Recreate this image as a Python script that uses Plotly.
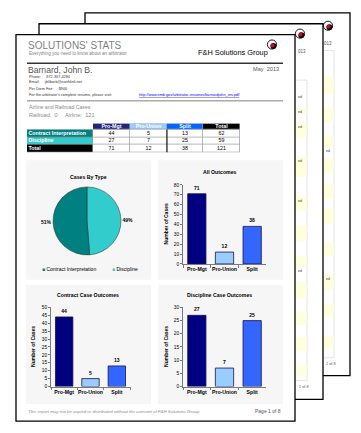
import plotly.graph_objects as go

W, H = 361, 433
def X(p): return p / W
def Y(p): return 1 - p / H

# ---------------- data ----------------
categories = ['Pro-Mgt', 'Pro-Union', 'Split']
contract_vals = [44, 5, 13]
discipline_vals = [27, 7, 25]
case_types = ['Contract Interpretation', 'Discipline']
all_vals = [c + d for c, d in zip(contract_vals, discipline_vals)]
type_totals = [sum(contract_vals), sum(discipline_vals)]
table_header = ['Pro-Mgt', 'Pro-Union', 'Split', 'Total']
row_labels = case_types + ['Total']

bar_colors = ['#000080', '#99CCFF', '#3366FF']
type_colors = ['#008080', '#33CCCC']
header_colors = ['#24247E', '#99CCFF', '#0066FF', '#000000']

FONT = 'Liberation Sans'

fig = go.Figure()

# ---------------- table (heatmap cells on a hidden axis) ----------------
rows = [contract_vals + [sum(contract_vals)],
        discipline_vals + [sum(discipline_vals)],
        all_vals + [sum(all_vals)]]
col_edges = [0, 66, 103, 140, 176, 213]      # relative column widths
row_edges = [0, 6, 14, 21.5, 29]             # relative row heights (header + 3 rows)
palette = ['#FFFFFF'] + header_colors + type_colors   # 0 white,1-4 headers,5-6 types
pal_scale = [[i / (len(palette) - 1), c] for i, c in enumerate(palette)]
label_idx = [5, 6, 4]
z = [[None, 1, 2, 3, 4]] + [[label_idx[r], 0, 0, 0, 0] for r in range(3)]
fig.add_trace(go.Heatmap(
    x=col_edges, y=row_edges, z=z, xaxis='x4', yaxis='y4',
    colorscale=pal_scale, zmin=0, zmax=len(palette) - 1, showscale=False,
    xgap=0.7, ygap=0.7, hoverinfo='skip'
))
cx = [(col_edges[i] + col_edges[i + 1]) / 2 for i in range(5)]
cy = [(row_edges[i] + row_edges[i + 1]) / 2 for i in range(4)]
# header texts
fig.add_trace(go.Scatter(
    x=cx[1:], y=[cy[0]] * 4, text=table_header, mode='text', xaxis='x4', yaxis='y4',
    textfont=dict(size=5.3, family=FONT, color='white', weight='bold'),
    hoverinfo='skip', showlegend=False))
# row labels
fig.add_trace(go.Scatter(
    x=[1.5] * 3, y=cy[1:], text=row_labels, mode='text', textposition='middle right',
    xaxis='x4', yaxis='y4',
    textfont=dict(size=5.3, family=FONT, color='white', weight='bold'),
    hoverinfo='skip', showlegend=False))
# values
vx, vy, vt = [], [], []
for r, row in enumerate(rows):
    for c, v in enumerate(row):
        vx.append(cx[c + 1]); vy.append(cy[r + 1]); vt.append(str(v))
fig.add_trace(go.Scatter(
    x=vx, y=vy, text=vt, mode='text', xaxis='x4', yaxis='y4',
    textfont=dict(size=5.3, family=FONT, color='black'),
    hoverinfo='skip', showlegend=False))

# ---------------- pie ----------------
fig.add_trace(go.Pie(
    labels=case_types[::-1], values=type_totals[::-1], sort=False,
    direction='clockwise', rotation=0,
    marker=dict(colors=type_colors[::-1], line=dict(color='#2a2a2a', width=0.5)),
    texttemplate='<b>%{percent:.0%}</b>', textposition='outside',
    textfont=dict(size=5, family=FONT, color='black'),
    domain=dict(x=[X(53), X(121)], y=[Y(256), Y(187)]),
    showlegend=False, hoverinfo='skip'
))

# ---------------- bars ----------------
for vals, xa, ya in [(all_vals, 'x', 'y'), (contract_vals, 'x2', 'y2'), (discipline_vals, 'x3', 'y3')]:
    fig.add_trace(go.Bar(
        x=categories, y=vals, xaxis=xa, yaxis=ya,
        marker=dict(color=bar_colors, line=dict(color='#14144a', width=0.8)),
        text=vals, textposition='outside', cliponaxis=False,
        textfont=dict(size=5, family=FONT, color='black', weight='bold'),
        showlegend=False, hoverinfo='skip'
    ))

axis_common = dict(showline=True, linecolor='#7a7a7a', linewidth=0.8, ticks='outside',
                   tickcolor='#7a7a7a', showgrid=False, zeroline=False, fixedrange=True)
xcommon = dict(axis_common, ticklen=3, tickson='boundaries', tickangle=0,
               tickfont=dict(size=5.2, family=FONT, color='black', weight='bold'))
ycommon = dict(axis_common, ticklen=2, tickfont=dict(size=4.8, family=FONT, color='black'))

shapes = []
def rect(x0, y0, x1, y1, fill='white', line='black', lw=1.3):
    shapes.append(dict(type='rect', xref='paper', yref='paper', x0=X(x0), x1=X(x1),
                       y0=Y(y1), y1=Y(y0), fillcolor=fill,
                       line=dict(color=line, width=lw), layer='below'))
def hline(x0, x1, y, color, lw):
    shapes.append(dict(type='line', xref='paper', yref='paper', x0=X(x0), x1=X(x1),
                       y0=Y(y), y1=Y(y), line=dict(color=color, width=lw), layer='below'))
def circ(cx_, cy_, r, fill, line='rgba(0,0,0,0)', lw=0):
    shapes.append(dict(type='circle', xref='paper', yref='paper', x0=X(cx_ - r), x1=X(cx_ + r),
                       y0=Y(cy_ + r), y1=Y(cy_ - r), fillcolor=fill,
                       line=dict(color=line, width=lw), layer='below'))
def logo(cx_, cy_):
    circ(cx_, cy_, 4.6, 'white', 'black', 0.9)
    circ(cx_ + 1.4, cy_ + 1.6, 3.0, 'black')
    circ(cx_ + 0.6, cy_ + 0.9, 2.0, '#E0001A')

ann = []
def text(x, y, s, size, color='black', anchor='left', bold=False, angle=0, italic=False):
    ann.append(dict(x=X(x), y=Y(y), xref='paper', yref='paper', text=s, showarrow=False,
                    xanchor=anchor, yanchor='middle', textangle=angle,
                    font=dict(size=size, color=color, family=FONT,
                              weight='bold' if bold else 'normal',
                              style='italic' if italic else 'normal')))

# back page 3
rect(85, 11, 350, 378)
rect(110, 49, 334, 360, fill='white', line='#dcdcdc', lw=0.8)
for y0, y1 in [(75, 93), (107, 122), (135, 147), (158, 173), (184, 199), (209, 224),
               (243, 257), (276, 291), (305, 318), (338, 350)]:
    rect(111, y0, 333.5, y1, fill='#FFFFDD', line='rgba(0,0,0,0)', lw=0)
logo(328, 24)
# back page 2
rect(39, 22, 323, 402)
rect(60, 79, 307, 383, fill='white', line='#dcdcdc', lw=0.8)
for y0, y1 in [(107, 113), (122, 137), (157, 177), (196, 212), (226, 242), (257, 268),
               (283, 300), (313, 327), (339, 353), (367, 379)]:
    rect(61, y0, 306.5, y1, fill='#FFFFDD', line='rgba(0,0,0,0)', lw=0)
logo(300, 32)
# main page
rect(16, 33, 295, 424)
logo(272, 43)
hline(27, 283, 62, '#333333', 1.5)
hline(27, 283, 100, '#808080', 1)
for x0, y0, x1, y1 in [(26, 160, 151, 281), (158, 160, 283, 281),
                       (26, 286, 151, 407), (158, 286, 283, 407)]:
    rect(x0, y0, x1, y1, fill='#F6F6F6', line='rgba(0,0,0,0)', lw=0)
# table grid backdrop (shows through the cell gaps)
rect(93, 123, 240, 152, fill='#9a9a9a', line='rgba(0,0,0,0)', lw=0)
rect(27, 129, 93, 152, fill='#9a9a9a', line='rgba(0,0,0,0)', lw=0)
# heavy divider in table
shapes.append(dict(type='line', xref='paper', yref='paper', x0=X(167), x1=X(167),
                   y0=Y(152), y1=Y(129), line=dict(color='black', width=1)))

# back page texts
text(322, 42, '013', 4.5, '#555')
text(296, 50, '013', 4.5, '#555')
for y in [96, 111, 126, 161, 201, 272]:
    text(296, y, 'ed', 3.5, '#333')
for y in [151, 280]:
    text(324, y, 'ed', 3.5, '#333')
text(324, 366, '2 of 8', 3.8, '#555')
text(297, 390, '2 of 8', 3.8, '#555')

# main page header texts
text(26, 44, "SOLUTIONS' STATS", 10, '#7f7f7f')
text(27, 52.5, 'Everything you need to know about an arbitrator', 4.6, '#7f7f7f')
text(196, 51, 'F&H Solutions Group', 7.4, 'black')
text(26, 68.5, 'Barnard, John B.', 8.6, '#555555')
text(281, 68, 'May  2013', 5.6, '#555555', anchor='right')
text(27, 76, 'Phone:     872-307-4284', 3.8, '#333')
text(27, 81, 'Email:     jb0barb@earthlink.net', 3.8, '#333')
text(27, 88, 'Per Diem Fee:     $900', 3.8, '#333')
text(27, 94.5, "For the arbitrator's complete resume, please visit:", 3.8, '#333')
text(137, 94.5, '<u>http://www.nmb.gov/arbitrator-resumes/barnardjohn_res.pdf</u>', 3.8, '#0000EE')
text(27, 106, 'Airline and Railroad Cases', 5.2, '#8a8a8a')
text(27, 114, 'Railroad:  0', 5.6, '#8a8a8a')
text(63, 114, 'Airline:  121', 5.6, '#8a8a8a')

# chart titles
text(88, 177, 'Cases By Type', 5.2, 'black', anchor='center', bold=True)
text(220, 172, 'All Outcomes', 5.2, 'black', anchor='center', bold=True)
text(88, 296, 'Contract Case Outcomes', 5.2, 'black', anchor='center', bold=True)
text(220, 296, 'Discipline Case Outcomes', 5.2, 'black', anchor='center', bold=True)
text(166, 225, 'Number of Cases', 5, 'black', anchor='center', bold=True, angle=-90)
text(33, 349, 'Number of Cases', 5, 'black', anchor='center', bold=True, angle=-90)
text(166, 349, 'Number of Cases', 5, 'black', anchor='center', bold=True, angle=-90)

# pie legend
text(40, 270, f"<span style='color:{type_colors[0]}'>■</span> {case_types[0]}", 5, 'black')
text(110, 270, f"<span style='color:{type_colors[1]}'>■</span> {case_types[1]}", 5, 'black')

# footer
text(26, 414, 'This report may not be copied or distributed without the consent of F&H Solutions Group',
     4.4, '#8a8a8a', italic=True)
text(283, 414, 'Page 1 of 8', 5, '#555555', anchor='right')

fig.update_layout(
    width=W, height=H, margin=dict(l=0, r=0, t=0, b=0),
    paper_bgcolor='white', plot_bgcolor='rgba(0,0,0,0)',
    bargap=0.34, showlegend=False,
    shapes=shapes, annotations=ann,
    xaxis=dict(xcommon, domain=[X(183), X(266)], anchor='y'),
    yaxis=dict(ycommon, domain=[Y(265), Y(185)], range=[0, 80], dtick=10, anchor='x'),
    xaxis2=dict(xcommon, domain=[X(51), X(130)], anchor='y2'),
    yaxis2=dict(ycommon, domain=[Y(389), Y(309)], range=[0, 50], dtick=5, anchor='x2'),
    xaxis3=dict(xcommon, domain=[X(183), X(266)], anchor='y3'),
    yaxis3=dict(ycommon, domain=[Y(389), Y(309)], range=[0, 30], dtick=5, anchor='x3'),
    xaxis4=dict(domain=[X(27), X(240)], range=[0, 213], visible=False, fixedrange=True, anchor='y4'),
    yaxis4=dict(domain=[Y(152), Y(123)], range=[29, 0], visible=False, fixedrange=True, anchor='x4'),
)

fig.write_html('out.html', config=dict(displayModeBar=False))
